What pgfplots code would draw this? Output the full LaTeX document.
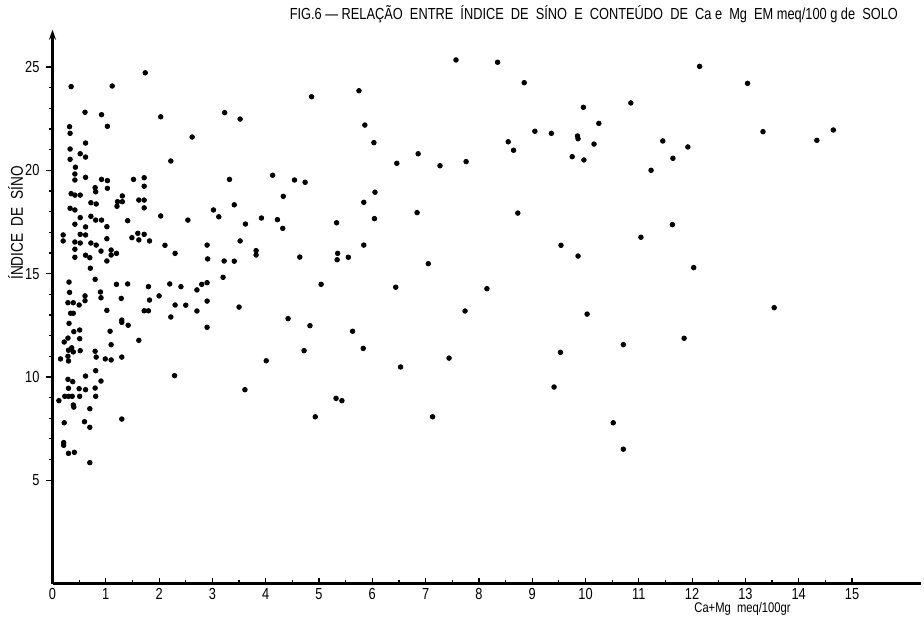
\documentclass[border=0pt]{standalone}
\usepackage{fontspec}
\setmainfont{Liberation Sans}[FakeStretch=0.8]
\usepackage{pgfplots}
\pgfplotsset{compat=1.18}
\usetikzlibrary{arrows.meta}

% Ca+Mg (meq/100 g) against the sino index, one row per sample
\pgfplotstableread{
x y
7.57 25.34
8.35 25.23
8.85 24.24
9.96 23.05
10.85 23.26
10.25 22.27
9.05 21.89
9.36 21.79
9.85 21.66
9.86 21.53
10.16 21.27
8.55 21.38
8.65 20.97
11.45 21.42
11.92 21.13
11.64 20.58
9.75 20.66
9.97 20.50
11.23 20.00
7.27 20.22
7.76 20.42
8.73 17.93
11.63 17.37
11.04 16.76
9.54 16.37
9.86 15.85
8.15 14.27
7.74 13.19
10.03 13.04
11.85 11.87
10.71 11.56
7.44 10.91
9.53 11.19
9.41 9.51
10.52 7.78
10.71 6.50
12.14 25.03
13.04 24.21
13.33 21.87
14.65 21.95
14.34 21.45
12.03 15.29
13.54 13.35
0.35 24.05
1.12 24.08
1.74 24.72
4.86 23.56
5.75 23.85
3.23 22.79
3.52 22.48
5.86 22.19
6.03 21.34
6.86 20.80
6.46 20.34
3.32 19.56
4.13 19.76
4.54 19.53
4.74 19.42
4.33 18.74
6.05 18.94
5.84 18.45
3.41 18.33
3.02 18.08
3.12 17.75
3.92 17.69
4.22 17.61
4.32 17.19
3.62 17.40
5.33 17.46
6.04 17.66
6.84 17.95
5.84 16.38
2.90 16.38
3.52 16.58
3.82 16.11
3.82 15.90
2.91 15.71
3.22 15.61
3.41 15.60
4.64 15.80
5.35 15.98
5.34 15.67
5.55 15.79
7.05 15.48
3.20 14.82
2.80 14.48
2.90 14.56
5.04 14.48
6.44 14.34
2.90 13.67
3.50 13.38
4.42 12.82
4.83 12.48
5.63 12.21
2.90 12.40
4.72 11.27
5.83 11.38
4.01 10.78
6.53 10.48
3.61 9.38
5.32 8.96
5.43 8.85
4.93 8.07
7.13 8.07
0.61 22.81
0.92 22.69
2.03 22.59
0.32 22.11
0.33 21.79
1.03 22.13
2.62 21.61
0.33 21.03
0.62 21.32
0.52 20.80
0.62 20.64
0.33 20.53
2.22 20.45
0.43 20.15
0.42 19.82
0.42 19.53
0.62 19.66
0.92 19.56
1.03 19.50
1.03 19.13
1.52 19.56
1.72 19.64
1.72 19.23
0.80 19.16
0.81 18.96
0.35 18.87
0.42 18.80
0.52 18.80
1.31 18.76
1.22 18.48
1.31 18.48
0.72 18.43
0.82 18.37
1.21 18.26
1.62 18.56
1.72 18.56
1.72 18.18
0.33 18.16
0.42 18.08
2.03 17.79
2.54 17.59
0.52 17.71
0.72 17.77
0.81 17.59
0.92 17.59
1.41 17.56
0.42 17.39
0.62 17.26
1.02 17.27
0.20 16.87
0.20 16.58
0.52 16.90
0.62 16.87
1.49 16.74
1.60 16.95
1.62 16.63
1.72 16.90
1.82 16.58
0.42 16.53
0.52 16.48
0.72 16.48
0.82 16.38
1.02 16.69
0.42 16.18
0.91 16.09
1.10 16.14
1.10 15.90
1.20 15.98
0.42 15.79
0.62 15.89
0.70 15.77
1.02 15.61
2.11 16.37
2.30 15.98
0.71 15.26
0.31 14.59
0.32 14.09
0.61 13.92
0.80 14.72
0.90 14.11
1.20 14.48
1.41 14.50
1.80 14.37
2.00 13.92
2.20 14.50
2.41 14.37
2.71 14.21
1.29 13.80
0.61 13.69
0.91 13.83
0.29 13.59
0.39 13.59
0.50 13.48
1.02 13.22
1.72 13.20
1.80 13.20
1.82 13.72
2.22 12.90
2.30 13.48
2.50 13.47
2.71 13.19
0.34 13.08
0.39 13.08
0.31 12.59
1.30 12.75
1.30 12.64
1.42 12.50
1.08 12.21
0.40 12.19
0.51 12.27
0.29 11.88
0.22 11.69
0.51 11.85
1.10 11.56
1.62 11.77
0.30 11.29
0.36 11.41
0.39 11.21
0.29 11.00
0.52 11.27
0.80 11.24
0.82 10.96
0.30 10.77
0.15 10.87
0.99 10.87
1.10 10.82
1.30 10.96
2.29 10.06
0.81 10.30
0.62 10.04
0.29 9.88
0.38 9.77
0.91 9.80
0.30 9.45
0.50 9.43
0.62 9.38
0.80 9.46
0.23 9.06
0.30 9.06
0.37 9.06
0.51 9.06
0.81 9.06
0.12 8.85
0.39 8.64
0.40 8.54
0.70 8.46
0.22 7.78
0.60 7.83
0.70 7.56
1.30 7.96
0.21 6.82
0.21 6.69
0.30 6.30
0.41 6.35
0.70 5.85
}\sinodata

\begin{document}
\begin{tikzpicture}
\begin{axis}[
  x=26.65pt, y=10.33pt,
  xmin=0, xmax=16.3, ymin=0, ymax=26.8,
  axis lines=left,
  axis line style={line width=1.4pt, black},
  x axis line style={-},
  y axis line style={-{Stealth[length=5pt,width=3.5pt]}},
  xtick={0,1,...,15}, ytick={5,10,...,25},
  minor x tick num=1, minor y tick num=4,
  xtick align=inside, ytick align=outside,
  major tick length=3pt, minor tick length=1.6pt,
  tick style={black, line width=0.6pt},
  ticklabel style={font=\fontsize{8}{9}\selectfont},
  /pgf/number format/assume math mode=true,
  xticklabel style={yshift=1pt},
  clip=false,
]
\addplot[only marks, mark=*, mark size=1.15pt, black] table {\sinodata};
\end{axis}
\node[anchor=east, font=\fontsize{8}{9}\selectfont] at (426.25pt,284.75pt)
  {FIG.6 --- RELAÇÃO\ \ ENTRE\ \ ÍNDICE\ \ DE\ \ SÍNO\ \ E\ \ CONTEÚDO\ \ DE\ \ Ca e\ \ Mg\ \ EM meq/100 g de\ \ SOLO};
\node[rotate=90, font=\fontsize{8.5}{9}\selectfont] at (-18.5pt,180.25pt) {ÍNDICE\ \ DE\ \ SÍNO};
\node[font=\fontsize{7}{9}\selectfont] at (345pt,-12.5pt) {Ca+Mg\ \ meq/100gr};
\pgfresetboundingbox
\path[use as bounding box] (-26.25pt,-16.25pt) rectangle (435.75pt,291.75pt);
\end{tikzpicture}
\end{document}
